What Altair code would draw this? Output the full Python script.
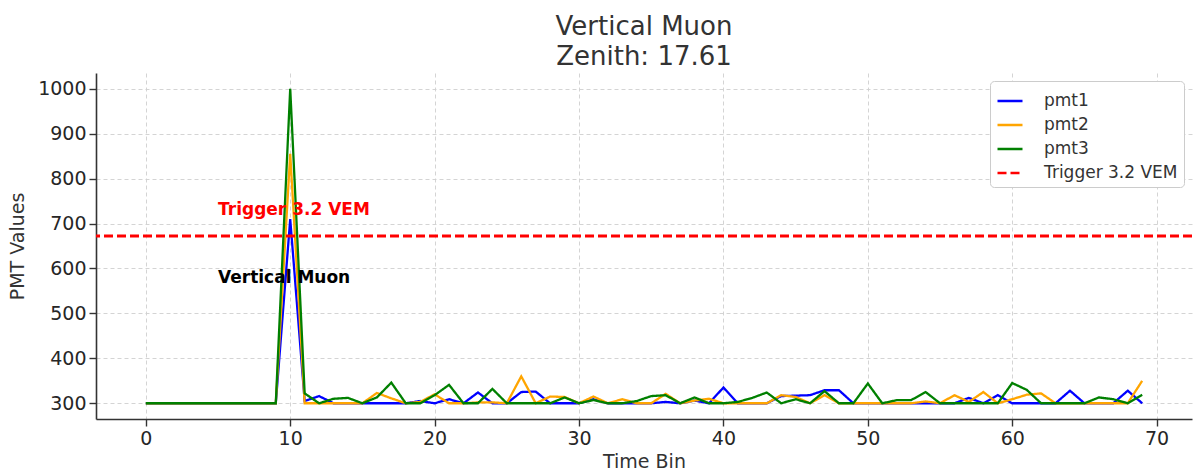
import altair as alt
import pandas as pd

time_bins = list(range(70))
pmt1 = [300]*10 + [710, 305, 316, 300, 300, 300, 300, 300, 300, 305,
                   300, 309, 300, 324, 300, 300, 325, 326, 300, 300,
                   300, 309, 300, 300, 300, 300, 303, 300, 306, 300,
                   335, 300, 300, 300, 316, 317, 318, 329, 329, 300,
                   300, 300, 300, 300, 300, 300, 300, 312, 300, 318,
                   300, 300, 300, 300, 328, 300, 300, 300, 328, 300]
pmt2 = [300]*10 + [855, 300, 300, 300, 300, 300, 323, 311, 300, 303,
                   320, 300, 300, 302, 302, 300, 360, 300, 315, 314,
                   300, 315, 300, 309, 300, 300, 321, 300, 306, 310,
                   300, 300, 300, 300, 318, 314, 300, 318, 300, 300,
                   300, 300, 300, 300, 304, 300, 318, 303, 325, 300,
                   309, 319, 322, 300, 300, 300, 300, 300, 300, 350]
pmt3 = [300]*10 + [1000, 322, 300, 310, 312, 300, 313, 346, 300, 300,
                   318, 341, 300, 300, 332, 300, 300, 300, 300, 313,
                   300, 307, 300, 300, 305, 316, 318, 300, 313, 300,
                   300, 303, 312, 324, 300, 309, 300, 327, 300, 300,
                   344, 300, 307, 307, 325, 300, 300, 300, 300, 300,
                   345, 330, 300, 300, 300, 300, 313, 309, 300, 319]
series_names = ["pmt1", "pmt2", "pmt3", "Trigger 3.2 VEM"]
series_colors = ["#0000ff", "#ffa500", "#008000", "#ff0000"]
trigger_value = [672]
annot_text = ["Trigger 3.2 VEM", "Vertical Muon"]
annot_x = [5, 5]
annot_y = [720, 568]
annot_color = ["#ff0000", "#000000"]
x_ticks = [0, 10, 20, 30, 40, 50, 60, 70]
y_ticks = [300, 400, 500, 600, 700, 800, 900, 1000]

rows = []
for name, vals in zip(series_names[:3], [pmt1, pmt2, pmt3]):
    for t, v in zip(time_bins, vals):
        rows.append({"bin": t, "value": v, "series": name})
df = pd.DataFrame(rows)
trig = pd.DataFrame({"value": trigger_value, "series": [series_names[3]]})
ann = pd.DataFrame({"bin": annot_x, "value": annot_y, "text": annot_text, "c": annot_color})

xscale = alt.Scale(domain=[-3.45, 72.45], nice=False, zero=False)
yscale = alt.Scale(domain=[265, 1035], nice=False, zero=False)
color = alt.Color("series:N", title=None,
                  scale=alt.Scale(domain=series_names, range=series_colors),
                  legend=alt.Legend(orient="none", legendX=894, legendY=8,
                                    symbolType="stroke", symbolSize=625,
                                    symbolStrokeWidth=2.5, labelFontSize=17,
                                    labelFont="DejaVu Sans", labelColor="#333333",
                                    rowPadding=2, padding=6, cornerRadius=4,
                                    strokeColor="#cccccc", fillColor="white",
                                    labelOffset=20))
dash = alt.StrokeDash("series:N", title=None,
                      scale=alt.Scale(domain=series_names,
                                      range=[[1, 0], [1, 0], [1, 0], [9, 4]]))

xaxis = alt.Axis(values=x_ticks, title="Time Bin", grid=True, format="d")
yaxis = alt.Axis(values=y_ticks, title="PMT Values", grid=True, format="d")

lines = alt.Chart(df).mark_line(strokeWidth=2.3).encode(
    x=alt.X("bin:Q", scale=xscale, axis=xaxis),
    y=alt.Y("value:Q", scale=yscale, axis=yaxis),
    color=color,
    strokeDash=dash,
    order=alt.Order("bin:Q"),
)
rule = alt.Chart(trig).mark_rule(strokeWidth=3).encode(
    y=alt.Y("value:Q", scale=yscale),
    color=color,
    strokeDash=dash,
)
texts = alt.Chart(ann).mark_text(align="left", baseline="alphabetic", fontSize=17,
                                 fontWeight="bold", font="DejaVu Sans").encode(
    x=alt.X("bin:Q", scale=xscale),
    y=alt.Y("value:Q", scale=yscale),
    text="text:N",
    color=alt.Color("c:N", scale=None, legend=None),
)

chart = alt.layer(lines, rule, texts).properties(
    width=1096, height=346,
    title=alt.TitleParams(["Vertical Muon", "Zenith: 17.61"], fontSize=26,
                          font="DejaVu Sans", fontWeight="normal", color="#333333",
                          lineHeight=30, offset=3, anchor="middle"),
    autosize=alt.AutoSizeParams(type="none"),
    padding={"left": 96, "top": 73, "right": 5, "bottom": 55},
).configure_view(stroke=None).configure_axis(
    labelFont="DejaVu Sans", titleFont="DejaVu Sans", labelFontSize=19, titleFontSize=19,
    titleFontWeight="normal", labelColor="#262626", titleColor="#333333",
    domainColor="#333333", domainWidth=1.6, tickColor="#333333", tickSize=7,
    tickWidth=1.4, gridColor="#cfcfcf", gridDash=[4, 3], gridWidth=0.9,
    labelPadding=3,
).configure_axisX(titlePadding=4).configure_axisY(titlePadding=10)

chart.save("out.html", embed_options={"renderer": "svg", "actions": False})
